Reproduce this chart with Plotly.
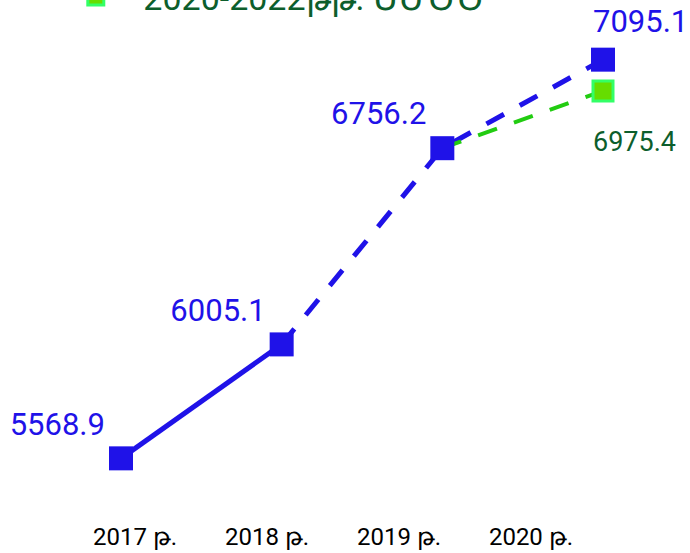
import plotly.graph_objects as go

# data
years = [2017, 2018, 2019, 2020]
tick_labels = ['2017 թ.', '2018 թ.', '2019 թ.', '2020 թ.']
actual = [5568.9, 6005.1, 6756.2, 7095.1]
mtef_years = [2019, 2020]
mtef = [6756.2, 6975.4]
mtef_name = '2020-2022թթ. ՄԺԾԾ'

blue = '#1f12e8'
green_line = '#22cc11'
green_dark = '#0d5e2c'
font_family = 'Roboto, Noto Sans, sans-serif'

fig = go.Figure()

# solid part 2017-2018
fig.add_trace(go.Scatter(x=years[:2], y=actual[:2], mode='lines',
                         line=dict(color=blue, width=5),
                         showlegend=False, hoverinfo='skip'))
# dashed part 2018-2020
fig.add_trace(go.Scatter(x=years[1:], y=actual[1:], mode='lines',
                         line=dict(color=blue, width=5, dash='20px,18px'),
                         showlegend=False, hoverinfo='skip'))
# green dashed line
fig.add_trace(go.Scatter(x=mtef_years, y=mtef, mode='lines',
                         line=dict(color=green_line, width=4, dash='20px,18px'),
                         showlegend=False, hoverinfo='skip'))
# blue markers + labels (last label done as annotation)
fig.add_trace(go.Scatter(x=years, y=actual, mode='markers+text',
                         marker=dict(symbol='square', size=24, color=blue),
                         text=[f'{v:.1f}' for v in actual[:-1]] + [''],
                         textposition='top left',
                         textfont=dict(size=31, color=blue, family=font_family),
                         cliponaxis=False, showlegend=False))
# green marker
fig.add_trace(go.Scatter(x=mtef_years[1:], y=mtef[1:], mode='markers',
                         name=mtef_name,
                         marker=dict(symbol='square', size=20, color='#66dd00',
                                     line=dict(color='#33ff66', width=3)),
                         cliponaxis=False))
# invisible trace to carry the tick-label axis
fig.add_trace(go.Scatter(x=years, y=[None] * len(years), xaxis='x2',
                         showlegend=False, hoverinfo='skip'))

# end-point labels
fig.add_annotation(x=years[-1], y=actual[-1], text=f'{actual[-1]:.1f}',
                   showarrow=False, xshift=37, yshift=38,
                   font=dict(size=31, color=blue, family=font_family))
fig.add_annotation(x=mtef_years[-1], y=mtef[-1], text=f'{mtef[-1]:.1f}',
                   showarrow=False, xshift=31, yshift=-51,
                   font=dict(size=27, color=green_dark, family=font_family))

fig.update_layout(
    width=690, height=553,
    margin=dict(l=0, r=0, t=0, b=33, autoexpand=False),
    paper_bgcolor='white', plot_bgcolor='white',
    font=dict(family=font_family),
    xaxis=dict(range=[2016.247, 2020.5415], visible=False),
    xaxis2=dict(overlaying='x', anchor='y', side='bottom',
                range=[2015.977, 2021.2045],
                tickvals=years, ticktext=tick_labels,
                tickfont=dict(size=24, color='black'),
                showgrid=False, zeroline=False, showline=False, ticks=''),
    yaxis=dict(range=[5332.9, 7323.5], visible=False),
    showlegend=True,
    legend=dict(x=0.07, y=1.005, xanchor='left', yanchor='middle',
                itemwidth=85,
                font=dict(size=34, color=green_dark),
                bgcolor='rgba(0,0,0,0)'),
)

fig.write_html('out.html', config={'displayModeBar': False},
               post_script="document.body.style.margin='0';")
